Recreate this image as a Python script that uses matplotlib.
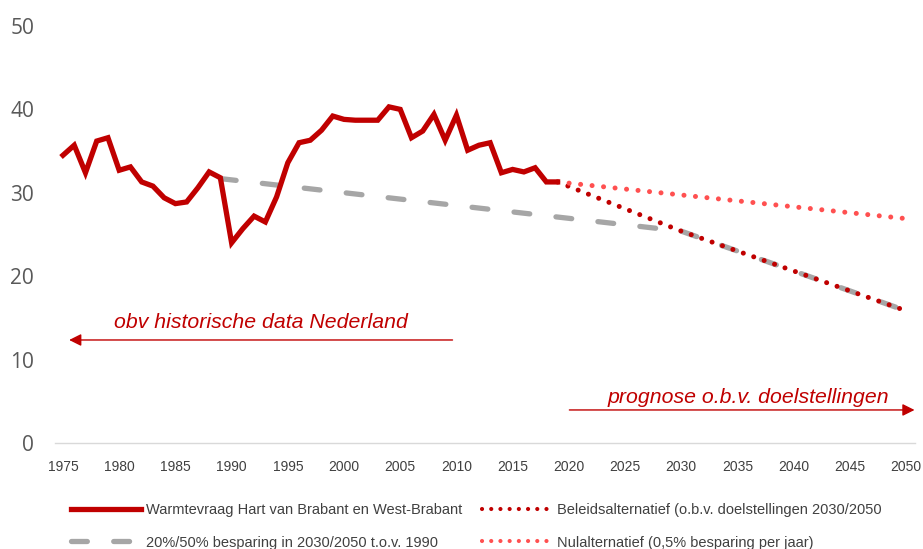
import matplotlib.pyplot as plt
from matplotlib.lines import Line2D

# historische warmtevraag (PJ)
years_hist = list(range(1975, 2020))
warmtevraag = [34.5, 35.7, 32.4, 36.2, 36.6, 32.7, 33.1, 31.3, 30.8, 29.4,
               28.7, 28.9, 30.6, 32.5, 31.8, 24.0, 25.7, 27.2, 26.5, 29.5,
               33.6, 36.0, 36.3, 37.5, 39.2, 38.8, 38.7, 38.7, 38.7, 40.3,
               40.0, 36.6, 37.4, 39.4, 36.3, 39.3, 35.1, 35.7, 36.0, 32.4,
               32.8, 32.5, 33.0, 31.3, 31.3]

years_besparing = [1989, 2030, 2050]
besparing = [31.7, 25.4, 15.85]

years_beleid = [2019, 2030, 2050]
beleid = [31.3, 25.4, 15.85]

years_nul = [2019, 2050]
nul = [31.3, 26.9]

xticks = list(range(1975, 2051, 5))
yticks = [0, 10, 20, 30, 40, 50]

red = "#C00000"
grey = "#A6A6A6"
pink = "#FF5050"

fig = plt.figure(figsize=(9.23, 5.49), dpi=100)
ax = fig.add_axes([0.0596, 0.1931, 0.9318, 0.7596])

ax.plot(years_hist, warmtevraag, color=red, lw=3.8, solid_joinstyle="miter", zorder=4)
ax.plot(years_besparing, besparing, color=grey, lw=3.8, dashes=(3.0, 5.0),
        dash_capstyle="round", zorder=2)
ax.plot(years_beleid, beleid, color=red, lw=3.6, ls=(0, (0.01, 2.2)),
        dash_capstyle="round", zorder=3)
ax.plot(years_nul, nul, color=pink, lw=3.6, ls=(0, (0.01, 2.3)),
        dash_capstyle="round", zorder=3)

ax.set_xlim(1974.29, 2050.8)
ax.set_ylim(0, 50)
ax.set_xticks(xticks)
ax.set_yticks(yticks)
ax.set_xticklabels([str(x) for x in xticks], fontsize=10, color="#404040",
                   fontfamily="Liberation Sans")
ax.set_yticklabels([str(y) for y in yticks], fontsize=15, color="#595959",
                   fontfamily="Open Sans")
ax.tick_params(axis="both", length=0)
ax.tick_params(axis="x", pad=12)
ax.tick_params(axis="y", pad=15)
for side in ["top", "right", "left"]:
    ax.spines[side].set_visible(False)
ax.spines["bottom"].set_color("#D9D9D9")
ax.spines["bottom"].set_linewidth(1)

ax.annotate("", xy=(1975.3, 12.35), xytext=(2009.9, 12.35),
            arrowprops=dict(arrowstyle="-|>", color=red, lw=1, mutation_scale=18),
            annotation_clip=False)
ax.text(1992.6, 14.4, "obv historische data Nederland", color=red, style="italic",
        fontsize=15.3, ha="center", va="center", fontfamily="Liberation Sans")
ax.annotate("", xy=(2051.0, 3.96), xytext=(2019.8, 3.96),
            arrowprops=dict(arrowstyle="-|>", color=red, lw=1, mutation_scale=18),
            annotation_clip=False)
ax.text(2036.0, 5.5, "prognose o.b.v. doelstellingen", color=red, style="italic",
        fontsize=15.3, ha="center", va="center", fontfamily="Liberation Sans")

handles = [
    Line2D([], [], color=red, lw=3.8),
    Line2D([], [], color=grey, lw=3.8, dashes=(3.0, 5.0), dash_capstyle="round"),
    Line2D([], [], color=red, lw=3.0, ls=(0, (0.01, 2.2)), dash_capstyle="round"),
    Line2D([], [], color=pink, lw=3.0, ls=(0, (0.01, 2.2)), dash_capstyle="round"),
]
labels = [
    "Warmtevraag Hart van Brabant en West-Brabant",
    "20%/50% besparing in 2030/2050 t.o.v. 1990",
    "Beleidsalternatief (o.b.v. doelstellingen 2030/2050",
    "Nulalternatief (0,5% besparing per jaar)",
]
leg = fig.legend(handles, labels, ncol=2, loc="lower left", bbox_to_anchor=(0.0626, -0.025),
                 frameon=False, handlelength=4.8, handletextpad=0.36, columnspacing=1.35,
                 labelspacing=1.26, prop={"family": "Liberation Sans", "size": 10.5})
for t in leg.get_texts():
    t.set_color("#404040")

fig.savefig("out.png", dpi=100)
